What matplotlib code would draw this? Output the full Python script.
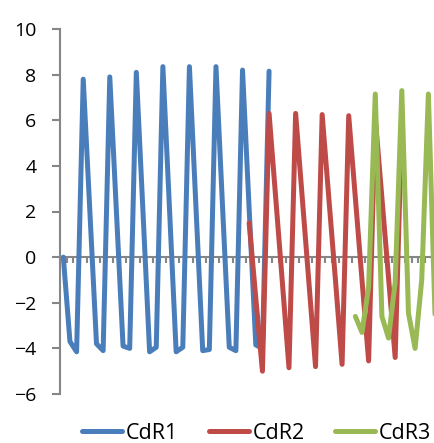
import numpy as np
import matplotlib
matplotlib.use('Agg')
import matplotlib.pyplot as plt

plt.rcParams['font.family'] = ['Open Sans', 'DejaVu Sans']

# values, one per category
CdR1_start = 0
CdR1 = [0, -3.7, -4.15, 7.8, 2.0, -3.8, -4.1, 7.9, 2.0, -3.9, -4.0, 8.1,
        2.0, -4.15, -3.95, 8.35, 2.1, -4.15, -3.95, 8.35, 2.1, -4.1, -4.05, 8.35,
        2.15, -3.95, -4.1, 8.2, 2.1, -3.85, -4.0, 8.15]

CdR2_start = 28
CdR2 = [1.5, -1.8, -5.0, 6.3, 2.6, -1.1, -4.85, 6.3, 2.6, -1.1, -4.8, 6.25,
        2.6, -1.0, -4.7, 6.2, 2.6, -1.0, -4.55, 6.1, 2.6, -0.9, -4.4, 6.0]

CdR3_start = 44
CdR3 = [-2.6, -3.3, -1.3, 7.15, -2.6, -3.55, -1.1, 7.3, -2.45, -4.0, -1.0, 7.15, -2.5]

series = [('CdR1', CdR1_start, CdR1, '#4A7EBB'),
          ('CdR2', CdR2_start, CdR2, '#BE4B48'),
          ('CdR3', CdR3_start, CdR3, '#98B954')]

fig = plt.figure(figsize=(4.35, 4.43), dpi=100)
ax = fig.add_axes([60/435, 1-394/443, 1-60/435, (394-29)/443])

for name, start, vals, col in series:
    x = np.arange(start, start+len(vals))
    ax.plot(x, vals, color=col, lw=3.6, label=name, solid_joinstyle='round',
            solid_capstyle='round')

gray = '#868686'
ax.set_ylim(-6, 10)
ax.set_xlim(-0.5, 56.0)
ax.set_yticks(range(-6, 11, 2))
ax.set_xticks(np.arange(0.5, 56, 1))
ax.set_xticklabels([])

for s in ['top', 'right']:
    ax.spines[s].set_visible(False)
ax.spines['left'].set_color(gray)
ax.spines['left'].set_linewidth(1.5)
ax.spines['bottom'].set_position(('data', 0))
ax.spines['bottom'].set_color(gray)
ax.spines['bottom'].set_linewidth(1.5)
ax.spines['bottom'].set_zorder(0.5)

ax.tick_params(axis='y', direction='out', length=6, width=1.5, color=gray,
               labelsize=14, pad=11)
ax.tick_params(axis='x', direction='out', length=4, width=1.5, color=gray)

fig.legend(loc='center', bbox_to_anchor=(0.59, 0.022), ncol=3, frameon=False,
           fontsize=15.5, handlelength=1.86, handletextpad=0.19, columnspacing=1.4,
           borderaxespad=0, borderpad=0)

plt.savefig('out.png', dpi=100)
